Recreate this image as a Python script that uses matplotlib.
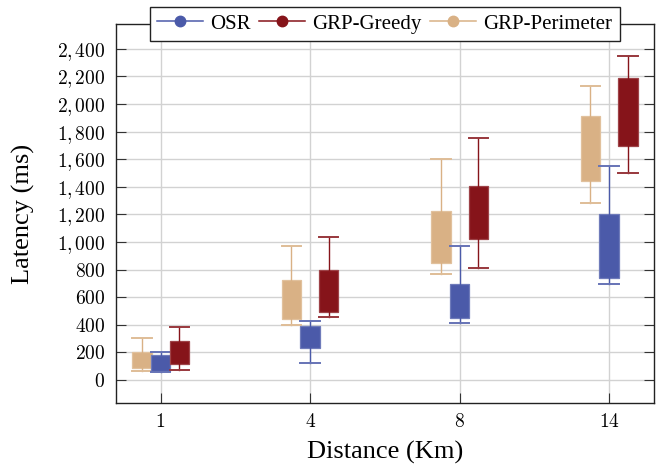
import numpy as np
import matplotlib
matplotlib.use("Agg")
from matplotlib import pyplot as plt
from matplotlib.lines import Line2D
from matplotlib.colors import to_rgb

plt.rcParams['font.family'] = ['Liberation Serif', 'DejaVu Serif']
plt.rcParams['mathtext.fontset'] = 'cm'

# distances on the x axis
distances = ['1', '4', '8', '14']

# box stats (ms)
osr_lo = [56, 125, 411, 694]
osr_q1 = [68, 234, 447, 737]
osr_q3 = [181, 394, 694, 1203]
osr_hi = [200, 425, 969, 1549]

greedy_lo = [72, 455, 812, 1501]
greedy_q1 = [116, 491, 1020, 1697]
greedy_q3 = [285, 795, 1404, 2190]
greedy_hi = [382, 1034, 1750, 2351]

perim_lo = [65, 399, 771, 1281]
perim_q1 = [89, 440, 850, 1441]
perim_q3 = [205, 723, 1225, 1912]
perim_hi = [302, 969, 1600, 2134]

y_ticks = [0, 200, 400, 600, 800, 1000, 1200, 1400, 1600, 1800, 2000, 2200, 2400]


def lighten(c, f=0.35):
    r, g, b = to_rgb(c)
    return (r + (1 - r) * f, g + (1 - g) * f, b + (1 - b) * f)


def draw_series(ax, lo, q1, q3, hi, offset, color):
    stats = []
    for i in range(len(lo)):
        stats.append({'whislo': lo[i], 'q1': q1[i], 'med': q1[i],
                      'q3': q3[i], 'whishi': hi[i], 'fliers': []})
    pos = np.arange(len(lo)) + offset
    ax.bxp(stats, positions=pos, widths=0.13, patch_artist=True,
           showfliers=False, capwidths=0.13,
           boxprops=dict(facecolor=color, edgecolor=lighten(color, 0.2), linewidth=0.9),
           whiskerprops=dict(color=color, linewidth=1.0),
           capprops=dict(color=lighten(color, 0.15), linewidth=1.4),
           medianprops=dict(visible=False),
           manage_ticks=False)


fig = plt.figure(figsize=(6.71, 4.72), dpi=100)
ax = fig.add_axes([0.1724, 0.1462, 0.8023, 0.8030])

c_osr = '#4b5aa9'
c_greedy = '#86141a'
c_perim = '#d9b185'

draw_series(ax, perim_lo, perim_q1, perim_q3, perim_hi, -0.125, c_perim)
draw_series(ax, osr_lo, osr_q1, osr_q3, osr_hi, 0.0, c_osr)
draw_series(ax, greedy_lo, greedy_q1, greedy_q3, greedy_hi, 0.125, c_greedy)

ax.set_xlim(-0.3, 3.3)
ax.set_ylim(-167, 2580)
ax.set_xticks(np.arange(len(distances)))
ax.set_xticklabels(['$%s$' % d for d in distances], fontsize=14)
ax.set_yticks(y_ticks)
ax.set_yticklabels(['$%s$' % format(v, ',').replace(',', '{,}\\,') for v in y_ticks],
                   fontsize=14)

ax.tick_params(direction='in', length=7, width=0.8, color='#333333',
               top=True, right=True, pad=7.5)
ax.grid(True, color='#d2d2d2', linewidth=1.0)
ax.set_axisbelow(True)
for s in ax.spines.values():
    s.set_color('#222222')
    s.set_linewidth(1.0)

ax.set_ylabel('Latency (ms)', fontsize=19)
ax.set_xlabel('Distance (Km)', fontsize=19)
ax.yaxis.set_label_coords(-0.149, 0.5)
ax.xaxis.set_label_coords(0.5, -0.1)

handles = [Line2D([], [], color=c, marker='o', markersize=7.5, linewidth=1.1)
           for c in (c_osr, c_greedy, c_perim)]
leg = ax.legend(handles, ['OSR', 'GRP-Greedy', 'GRP-Perimeter'], ncol=3,
                loc='center', bbox_to_anchor=(0.5, 1.0), fontsize=15,
                fancybox=False, framealpha=1, edgecolor='#222222',
                handlelength=2.2, handletextpad=0.35, columnspacing=0.4,
                borderpad=0.35)
leg.get_frame().set_linewidth(1.0)
leg.set_zorder(10)

fig.savefig('out.png', dpi=100)
